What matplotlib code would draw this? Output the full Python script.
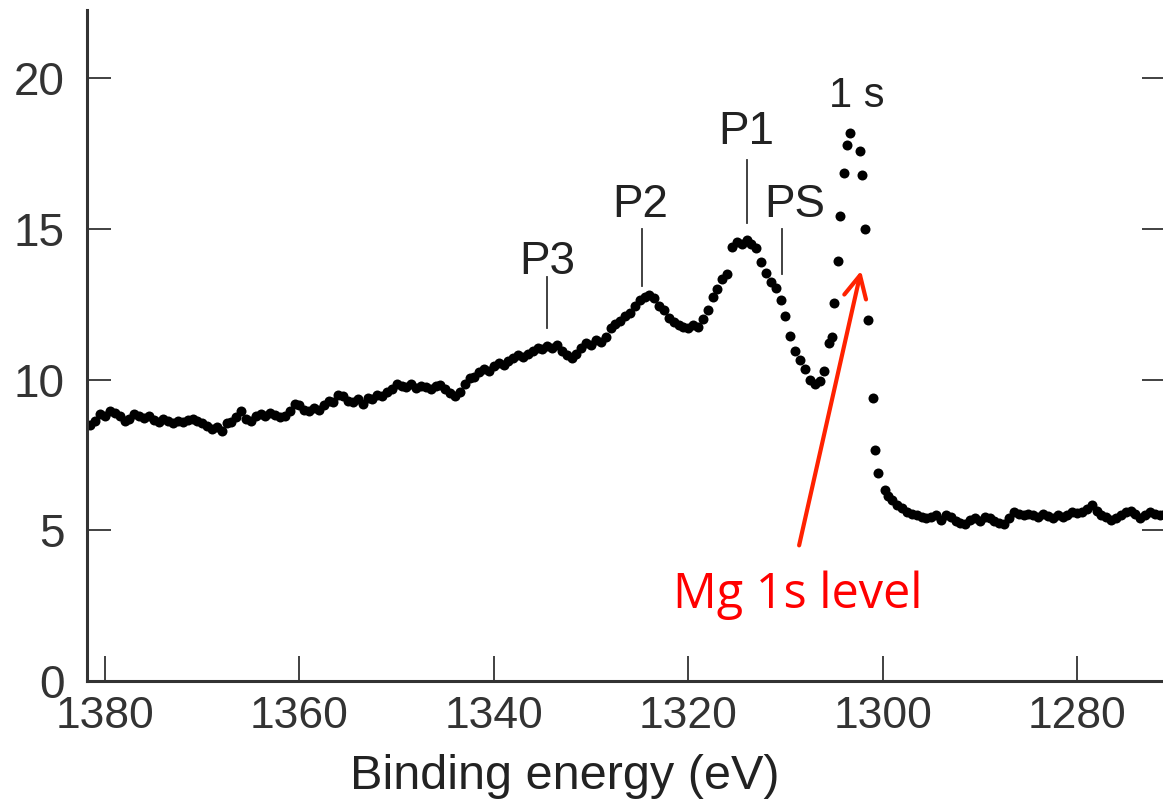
import numpy as np
import matplotlib
matplotlib.use("Agg")
import matplotlib.pyplot as plt

# XPS spectrum around the Mg 1s level, sampled every 0.5 eV on the two broad parts
hi_start, hi_step = 1381.5, 0.5
hi_counts = [
    8.50, 8.62, 8.85, 8.80, 8.95, 8.90, 8.78, 8.62, 8.70, 8.85,
    8.80, 8.72, 8.78, 8.65, 8.60, 8.70, 8.62, 8.55, 8.62, 8.58,
    8.65, 8.70, 8.62, 8.55, 8.45, 8.35, 8.42, 8.30, 8.55, 8.60,
    8.75, 8.95, 8.70, 8.62, 8.80, 8.85, 8.78, 8.90, 8.82, 8.75,
    8.80, 8.95, 9.20, 9.15, 9.00, 8.95, 9.05, 8.98, 9.15, 9.30,
    9.25, 9.50, 9.45, 9.30, 9.25, 9.35, 9.20, 9.40, 9.35, 9.50,
    9.45, 9.60, 9.70, 9.85, 9.80, 9.75, 9.85, 9.72, 9.80, 9.75,
    9.70, 9.78, 9.82, 9.70, 9.55, 9.45, 9.60, 9.85, 10.05, 10.10,
    10.25, 10.35, 10.30, 10.45, 10.55, 10.50, 10.62, 10.70, 10.80, 10.75,
    10.85, 10.95, 11.05, 11.00, 11.10, 11.05, 11.15, 10.95, 10.80, 10.70,
    10.85, 11.05, 11.20, 11.15, 11.30, 11.25, 11.40, 11.70, 11.85, 11.95,
    12.10, 12.20, 12.45, 12.65, 12.75, 12.80, 12.70, 12.45, 12.30, 12.05,
    11.90, 11.80, 11.75, 11.70, 11.80, 11.75, 12.00, 12.30, 12.75, 13.00,
    13.35, 13.50, 14.40, 14.55, 14.50, 14.62, 14.50, 14.35, 13.90, 13.55,
    13.25, 13.05, 12.65, 12.10, 11.45, 10.95, 10.65, 10.35, 10.00, 9.85,
    9.95, 10.30,
]

# the 1s line itself, point by point
peak_energy = [1305.57, 1305.26, 1304.98, 1304.64, 1304.40, 1303.95, 1303.71, 1303.37,
               1302.34, 1302.16, 1301.82, 1301.47, 1300.96, 1300.79, 1300.44, 1299.80]
peak_counts = [11.21, 11.41, 12.55, 13.94, 15.42, 16.86, 17.78, 18.17,
               17.59, 16.78, 15.01, 11.97, 9.38, 7.66, 6.89, 6.33]

lo_start, lo_step = 1299.5, 0.5
lo_counts = [
    6.15, 6.00, 5.85, 5.75, 5.62, 5.55, 5.50, 5.45, 5.40, 5.45,
    5.50, 5.35, 5.52, 5.45, 5.30, 5.25, 5.20, 5.35, 5.40, 5.30,
    5.45, 5.40, 5.30, 5.25, 5.20, 5.40, 5.62, 5.55, 5.50, 5.55,
    5.50, 5.45, 5.55, 5.48, 5.42, 5.50, 5.45, 5.52, 5.60, 5.58,
    5.62, 5.70, 5.85, 5.65, 5.50, 5.45, 5.35, 5.42, 5.50, 5.60,
    5.65, 5.55, 5.40, 5.50, 5.60, 5.55, 5.50, 5.55,
]

# peak labels: text, energy, label height, tick from / to
peak_names = ["P3", "P2", "P1", "PS"]
peak_pos = [1334.5, 1324.8, 1314.0, 1310.4]
label_y = [13.9, 15.8, 18.2, 15.8]
label_x = [1334.5, 1324.9, 1314.0, 1309.0]
mark_lo = [11.7, 13.1, 15.2, 13.5]
mark_hi = [13.4, 15.0, 17.3, 15.0]

x_ticks = [1380, 1360, 1340, 1320, 1300, 1280]
y_ticks = [0, 5, 10, 15, 20]

label_font = ["Liberation Sans", "DejaVu Sans"]
ink = "#222222"

hi_energy = hi_start - hi_step * np.arange(len(hi_counts))
lo_energy = lo_start - lo_step * np.arange(len(lo_counts))
energy = np.concatenate([hi_energy, peak_energy, lo_energy])
counts = np.concatenate([hi_counts, peak_counts, lo_counts])

fig = plt.figure(figsize=(11.63, 8.07), dpi=100)
ax = fig.add_axes([0.0748, 0.1561, 0.9278, 0.8315])

ax.plot(energy, counts, "o", color="black", markersize=7.2, markeredgewidth=0)

ax.set_xlim(1381.86, 1270.85)
ax.set_ylim(0, 22.26)
ax.set_xticks(x_ticks)
ax.set_yticks(y_ticks)
ax.set_xticklabels([str(v) for v in x_ticks], family=label_font, fontsize=32, color=ink)
ax.set_yticklabels([str(v) for v in y_ticks], family=label_font, fontsize=33, color=ink)
ax.tick_params(axis="x", direction="in", length=18, width=1.3, pad=11, colors="#333333")
ax.tick_params(axis="y", direction="in", length=17, width=1.3, pad=16, right=True, colors="#333333")
ax.spines["top"].set_visible(False)
for side in ["left", "bottom"]:
    ax.spines[side].set_linewidth(2.2)
    ax.spines[side].set_color("#333333")

ax.set_xlabel("Binding energy (eV)", family=label_font, fontsize=35, color=ink, va="center")
ax.xaxis.set_label_coords(0.443, -0.142)

for name, pos, lx, ly, lo, hi in zip(peak_names, peak_pos, label_x, label_y, mark_lo, mark_hi):
    ax.plot([pos, pos], [lo, hi], color="#333333", lw=1.3)
    ax.text(lx, ly, name, family=label_font, fontsize=33, color=ink,
            ha="center", va="center")
ax.text(1302.7, 19.4, "1 s", family=label_font, fontsize=30, color=ink,
        ha="center", va="center")

# red pointer to the 1s line
ax.annotate("", xy=(1302.16, 13.70), xytext=(1308.66, 4.41),
            arrowprops=dict(arrowstyle="->", color="#ff2200", lw=3, mutation_scale=40))
ax.text(1308.7, 2.85, "Mg 1s level", fontsize=35, color="#ff0000",
        ha="center", va="center", family=["Open Sans", "DejaVu Sans"])

fig.savefig("out.png", dpi=100)
